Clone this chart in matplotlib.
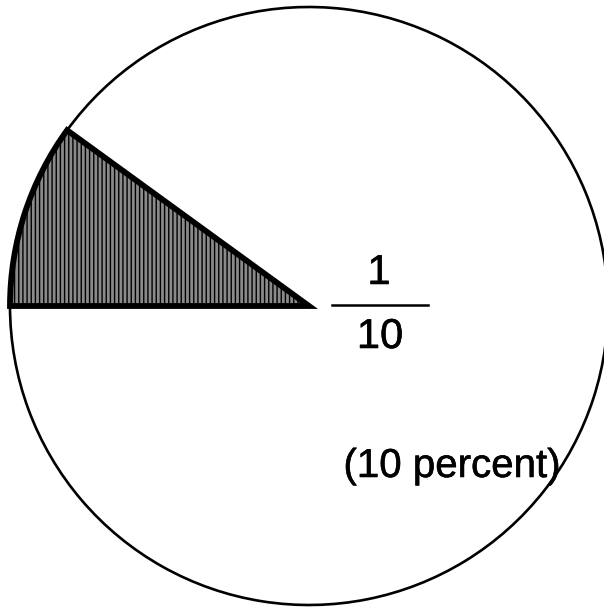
import matplotlib.pyplot as plt
import matplotlib.patheffects as pe

# share of the circle, percent: the shaded slice and the rest
shares = [10, 90]
slice_fraction = ("1", "10")
slice_note = "(10 percent)"

plt.rcParams['font.family'] = ['Liberation Sans', 'DejaVu Sans']
plt.rcParams['hatch.linewidth'] = 1.0

fig = plt.figure(figsize=(6.04, 6.11), dpi=100)
ax = fig.add_axes([0, 0, 1, 1])

# pie in pixel units, shaded slice from 144 deg to 180 deg
wedges, _ = ax.pie(shares, startangle=144, counterclock=True,
                   radius=299, center=(309, 305), frame=False)

shaded, rest = wedges
rest.set_facecolor('white')
rest.set_edgecolor('black')
rest.set_linewidth(1.9)
rest.set_zorder(1)

shaded.set_facecolor('#8a8a8a')
shaded.set_edgecolor('black')
shaded.set_hatch('||||')
shaded.set_linewidth(4.2)
shaded.set_joinstyle('miter')
shaded.set_zorder(2)

# scanned print looks a little heavier than the regular face
heavy = [pe.withStroke(linewidth=0.4, foreground='black')]

# fraction label
ax.text(379, 611 - 273, slice_fraction[0], fontsize=30, ha='center', va='center',
        path_effects=heavy)
ax.plot([332, 428], [611 - 305, 611 - 305], color='black', lw=1.8)
ax.text(380, 611 - 337, slice_fraction[1], fontsize=30, ha='center', va='center',
        path_effects=heavy)
ax.text(452, 611 - 466, slice_note, fontsize=29, ha='center', va='center',
        path_effects=heavy)

ax.set_xlim(0, 604)
ax.set_ylim(0, 611)
ax.set_aspect('equal')
ax.axis('off')

fig.savefig('out.png', dpi=100, facecolor='white')
